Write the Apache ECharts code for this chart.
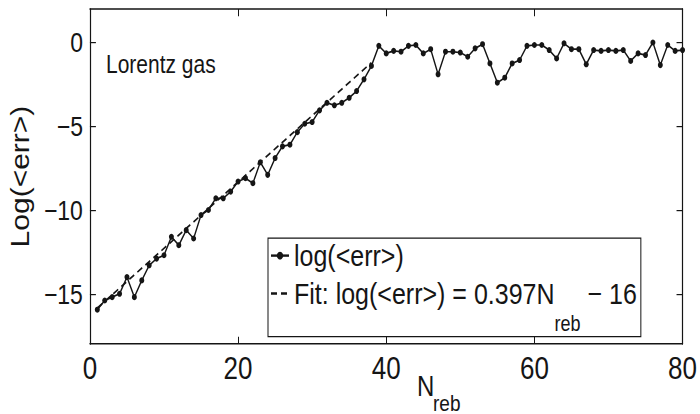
<!DOCTYPE html>
<html>
<head>
<meta charset="utf-8">
<script src="https://cdn.jsdelivr.net/npm/echarts@6/dist/echarts.min.js"></script>
<style>
  html, body { margin: 0; padding: 0; background: #fff; overflow: hidden; }
  #wrap { width: 700px; height: 414px; overflow: hidden; }
  /* the reference figure is stretched vertically by about 1.2 */
  #chart { width: 700px; height: 345px; transform: scaleY(1.2); transform-origin: 0 0; }
</style>
</head>
<body>
<div id="wrap"><div id="chart"></div></div>
<script>
// ---- data ----
const nReb = [1,2,3,4,5,6,7,8,9,10,11,12,13,14,15,16,17,18,19,20,
  21,22,23,24,25,26,27,28,29,30,31,32,33,34,35,36,37,38,39,40,
  41,42,43,44,45,46,47,48,49,50,51,52,53,54,55,56,57,58,59,60,
  61,62,63,64,65,66,67,68,69,70,71,72,73,74,75,76,77,78,79,80];
const logErr = [-15.95,-15.4,-15.2,-15.0,-14.0,-15.2,-14.2,-13.3,-12.9,-12.7,
  -11.6,-12.1,-11.2,-11.7,-10.3,-10.0,-9.3,-9.3,-8.9,-8.3,
  -8.1,-8.4,-7.15,-7.9,-6.9,-6.2,-6.1,-5.35,-4.85,-4.75,
  -4.05,-3.6,-3.75,-3.6,-3.3,-2.9,-2.2,-1.4,-0.2,-0.65,
  -0.5,-0.55,-0.2,-0.15,-0.65,-0.4,-1.9,-0.55,-0.55,-0.6,
  -0.85,-0.35,-0.1,-1.25,-2.4,-2.1,-1.25,-1.05,-0.2,-0.15,
  -0.15,-0.45,-0.95,-0.05,-0.4,-0.4,-1.3,-0.45,-0.5,-0.45,
  -0.5,-0.45,-1.1,-0.65,-0.75,0.0,-1.35,-0.15,-0.5,-0.45];
// dashed fit line end points (as drawn)
const fitN = [1, 38];
const fitVal = [-15.85, -1.2];
const yTicks = [-15, -10, -5, 0];
const seriesNames = ['log(<err>)', 'Fit: log(<err>) = 0.397N_reb \u2212 16'];

const FONT = '"Liberation Sans", Arial, Helvetica, sans-serif';
const INK = '#151515';

const chart = echarts.init(document.getElementById('chart'), null, { renderer: 'svg' });

const minus = v => String(v).replace('-', '\u2212');

const tickCommon = { show: true, inside: true, length: 6, lineStyle: { color: INK, width: 1 } };
const lineCommon = { show: true, onZero: false, lineStyle: { color: INK, width: 1.2 } };

chart.setOption({
  animation: false,
  backgroundColor: '#fff',
  textStyle: { fontFamily: FONT },
  grid: { left: 84, right: 13, top: 7.5, bottom: 58.3, containLabel: false },
  xAxis: [
    {
      type: 'value', min: 0, max: 80, interval: 20,
      axisLine: lineCommon, axisTick: tickCommon,
      axisLabel: { color: INK, fontFamily: FONT, fontSize: 26, margin: 7,
        showMinLabel: true, showMaxLabel: true, hideOverlap: false },
      splitLine: { show: false }
    },
    {
      type: 'value', position: 'top', min: 0, max: 80, interval: 20,
      axisLine: lineCommon, axisTick: tickCommon,
      axisLabel: { show: false }, splitLine: { show: false }
    }
  ],
  yAxis: [
    {
      type: 'value', min: -18, max: 2,
      axisLine: lineCommon,
      axisTick: Object.assign({}, tickCommon, { customValues: yTicks }),
      axisLabel: { color: INK, fontFamily: FONT, fontSize: 23, margin: 7,
        customValues: yTicks, formatter: minus },
      splitLine: { show: false },
      name: 'Log(<err>)', nameLocation: 'middle', nameRotate: 90, nameGap: 50,
      nameTextStyle: { color: INK, fontFamily: FONT, fontSize: 25 }
    },
    {
      type: 'value', position: 'right', min: -18, max: 2,
      axisLine: lineCommon,
      axisTick: Object.assign({}, tickCommon, { customValues: yTicks }),
      axisLabel: { show: false }, splitLine: { show: false }
    }
  ],
  legend: {
    orient: 'vertical', left: 268, top: 198.5,
    backgroundColor: '#fff',
    borderColor: INK, borderWidth: 1,
    padding: [2, 4, 2, 2],
    itemGap: 6.6, itemWidth: 18, itemHeight: 8,
    data: [
      { name: seriesNames[0] },
      { name: seriesNames[1], itemStyle: { color: 'rgba(0,0,0,0)', borderWidth: 0 } }
    ],
    textStyle: {
      color: INK, fontFamily: FONT, fontSize: 25,
      rich: {
        t: { fontFamily: FONT, fontSize: 25, color: INK, lineHeight: 24 },
        s: { fontFamily: FONT, fontSize: 18, color: INK, lineHeight: 24, padding: [25, 0, -25, 0] }
      }
    },
    formatter: function (name) {
      if (name.indexOf('_reb') >= 0) {
        const parts = name.split('_reb');
        return '{t|' + parts[0] + '}{s|reb}{t|' + parts[1] + '}';
      }
      return '{t|' + name + '}';
    }
  },
  graphic: [
    { type: 'text', left: 106, top: 43, silent: true,
      style: { text: 'Lorentz gas', font: '21px ' + FONT, fill: INK } },
    { type: 'text', left: 417, top: 310, silent: true,
      style: { text: 'N', font: '24px ' + FONT, fill: INK } },
    { type: 'text', left: 433, top: 326, silent: true,
      style: { text: 'reb', font: '19px ' + FONT, fill: INK } }
  ],
  series: [
    {
      name: seriesNames[0], type: 'line',
      data: nReb.map((n, i) => [n, logErr[i]]),
      symbol: 'circle', symbolSize: 5, showSymbol: true,
      lineStyle: { color: INK, width: 1.4 },
      itemStyle: { color: INK },
      z: 3
    },
    {
      name: seriesNames[1], type: 'line',
      data: fitN.map((n, i) => [n, fitVal[i]]),
      symbol: 'none',
      lineStyle: { color: INK, width: 1.5, type: [6, 4] },
      itemStyle: { color: INK },
      z: 2
    }
  ]
});
</script>
</body>
</html>
